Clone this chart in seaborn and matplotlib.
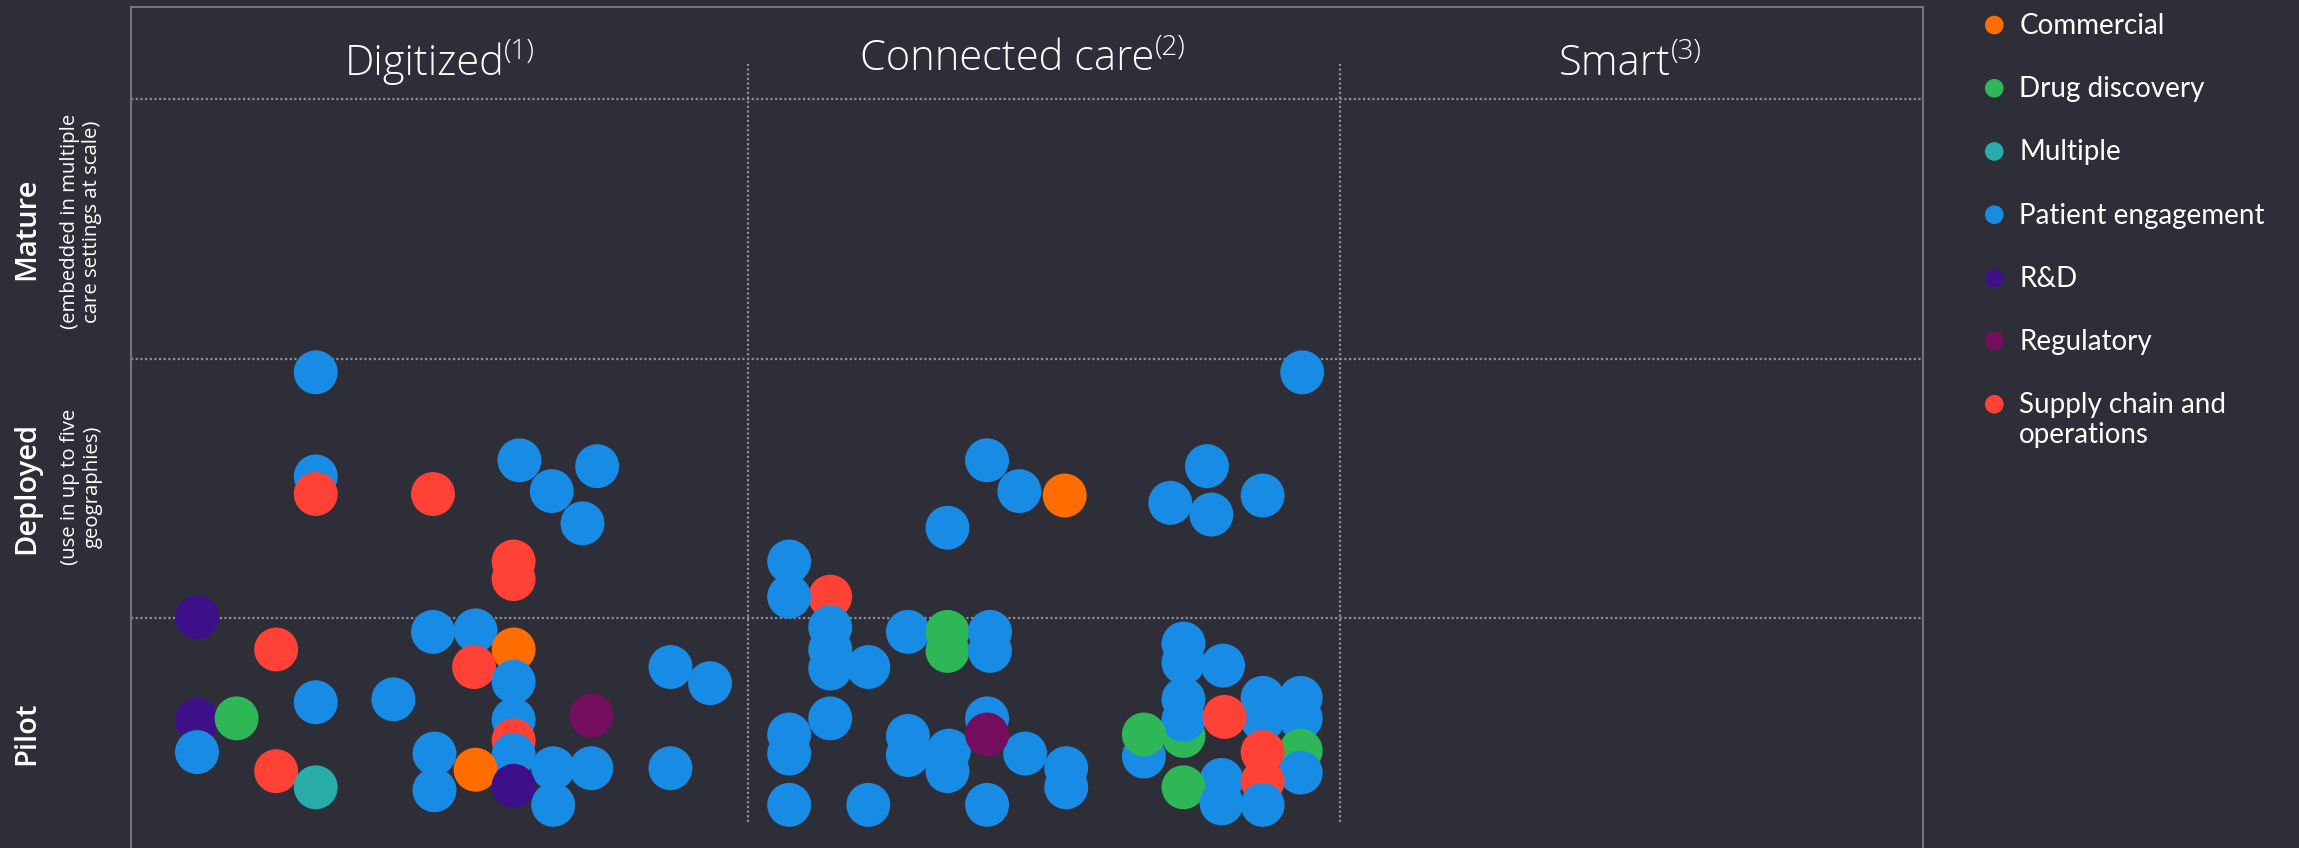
import pandas as pd
import matplotlib.pyplot as plt
import seaborn as sns

# Use-case areas (legend order) and colours
areas = ["Commercial", "Drug discovery", "Multiple", "Patient engagement",
         "R&D", "Regulatory", "Supply chain and\noperations"]
area_codes = ["CO", "DD", "MU", "PE", "RD", "RG", "SC"]
area_colors = ["#FF6D00", "#2DB757", "#27ACAA", "#188CE5", "#3D108A", "#750E5C", "#FF4136"]

# Grid labels
columns = ["Digitized", "Connected care", "Smart"]
column_notes = ["(1)", "(2)", "(3)"]
rows = ["Mature", "Deployed", "Pilot"]
row_notes = ["(embedded in multiple\ncare settings at scale)",
             "(use in up to five\ngeographies)", ""]

# Use cases placed on the grid (x: left edge = 0, y: bottom of pilot row = 0)
# listed in drawing order
digitized_x = [126, 265, 318, 126, 287, 126, 206, 308, 261, 261,
               45, 235, 206, 99, 261, 234, 368, 261, 395, 179, 126, 314, 45, 72,
               261, 261, 45, 207, 261, 288, 314, 368, 235, 99, 261, 126, 207, 288]
digitized_y = [345, 285, 281, 274, 264, 262, 262, 242, 216, 204,
               178, 169, 168, 156, 156, 144, 144, 134, 133, 122, 120, 111, 108, 109,
               108, 94, 86, 85, 84, 75, 75, 75, 74, 73, 63, 62, 60, 50]
digitized_area = ["PE", "PE", "PE", "PE", "PE", "SC", "SC", "PE", "SC", "SC",
                  "RD", "PE", "PE", "SC", "CO", "SC", "PE", "PE", "PE", "PE", "PE", "RG", "RD", "DD",
                  "PE", "SC", "PE", "PE", "PE", "PE", "PE", "PE", "CO", "SC", "RD", "MU", "PE", "PE"]

connected_x = [799, 584, 734, 606, 637, 772, 709, 737, 557, 449, 477, 449,
               477, 530, 557, 586, 477, 557, 586, 503, 477, 477, 584, 449, 530, 558,
               449, 610, 530, 584, 638, 557, 638, 449, 503, 584,
               718, 718, 745, 772, 798, 718, 798, 772, 718, 718, 746, 691, 691,
               798, 772, 798, 744, 772, 718, 744, 772]
connected_y = [345, 285, 281, 264, 261, 261, 256, 248, 239, 216, 192, 192,
               171, 168, 168, 168, 156, 155, 155, 144, 143, 109, 109, 98, 97, 87,
               85, 85, 84, 98, 75, 73, 62, 50, 50, 50,
               160, 147, 145, 123, 123, 122, 109, 108, 97, 108, 110, 83, 98,
               87, 86, 72, 67, 66, 62, 51, 50]
connected_area = ["PE", "PE", "PE", "PE", "CO", "PE", "PE", "PE", "PE", "PE", "SC", "PE",
                  "PE", "PE", "DD", "PE", "PE", "DD", "PE", "PE", "PE", "PE", "PE", "PE", "PE", "PE",
                  "PE", "PE", "PE", "RG", "PE", "PE", "PE", "PE", "PE", "PE",
                  "PE", "PE", "PE", "PE", "PE", "PE", "PE", "PE", "DD", "PE", "SC", "PE", "DD",
                  "DD", "SC", "PE", "PE", "SC", "DD", "PE", "PE"]

bg = "#2E2E38"
frame_col = "#747480"
dot_col = "#8E8E99"

df = pd.DataFrame({
    "x": digitized_x + connected_x,
    "y": digitized_y + connected_y,
    "area": digitized_area + connected_area,
})
palette = dict(zip(area_codes, area_colors))

sns.set_theme(style="white", rc={"axes.facecolor": bg, "figure.facecolor": bg})
plt.rcParams["font.family"] = ["Open Sans", "DejaVu Sans"]

fig = plt.figure(figsize=(22.99, 8.48), dpi=100)
ax = fig.add_axes([0.057, -0.0356, 0.7795, 1.0274])

sns.scatterplot(data=df, x="x", y="y", hue="area", palette=palette,
                hue_order=area_codes, s=1000, linewidth=0, legend=False, ax=ax)

ax.set_xlim(0, 1222.6)
ax.set_ylim(0, 594.2)
ax.set_xticks([])
ax.set_yticks([])
ax.set_xlabel("")
ax.set_ylabel("")
ax.spines["bottom"].set_visible(False)
for side in ["top", "left", "right"]:
    ax.spines[side].set_color(frame_col)
    ax.spines[side].set_linewidth(1.5)

# dotted grid
for yy in [177.3, 354.4, 531.7]:
    ax.axhline(yy, color=dot_col, lw=1.6, ls=(0, (1, 1.1)), zorder=0)
ax.vlines([421.2, 824.7], 38, 555, color=dot_col, lw=1.6, ls=(0, (1, 1.1)), zorder=0)

# column titles with superscript notes
title_pos = [(200, 548), (598, 551), (1012, 548)]
for name, note, (tx, ty) in zip(columns, column_notes, title_pos):
    t = ax.text(tx, ty, name, ha="center", va="baseline", fontsize=30,
                fontweight="light", color="white")
    ax.annotate(note, xy=(1, 0), xycoords=t, xytext=(0, 18.5), textcoords="offset points",
                ha="left", va="baseline", fontsize=20, fontweight="light", color="white")

# row labels
row_pos = [443, 266, 99]
note_pos = [448, 267, 99]
for name, note, ry, ny in zip(rows, row_notes, row_pos, note_pos):
    ax.text(-71, ry, name, rotation=90, ha="center", va="center", fontsize=21,
            fontweight="semibold", color="white", clip_on=False)
    if note:
        ax.text(-34, ny, note, rotation=90, ha="center", va="center", fontsize=14.7,
                color="white", linespacing=1.15, multialignment="center", clip_on=False)

# legend
leg = fig.add_axes([1980 / 2299, 0, 319 / 2299, 1])
leg.set_facecolor(bg)
leg.axis("off")
leg_df = pd.DataFrame({"x": [0] * len(areas), "y": list(range(len(areas))), "area": area_codes})
sns.scatterplot(data=leg_df, x="x", y="y", hue="area", palette=palette, hue_order=area_codes,
                s=180, linewidth=0, legend=False, ax=leg)
leg.set_xlim(-14.3, 304.7)
leg.set_ylim(13.02, -0.396)
for i, label in enumerate(areas):
    leg.text(25, i - 0.19, label, ha="left", va="top", fontsize=20, color="white",
             family=["Lato", "DejaVu Sans"], linespacing=1.2)

plt.savefig("out.png", dpi=100, facecolor=bg)
